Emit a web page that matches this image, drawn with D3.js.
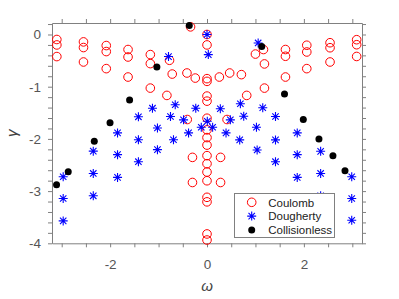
<!DOCTYPE html>
<html lang="en">
<head>
    <meta charset="UTF-8">
    <title>roots</title>
    <script src="https://d3js.org/d3.v7.min.js"></script>
    <style>
        body { margin: 0; background: #fff; }
        text { font-family: "Liberation Sans", Arial, sans-serif; }
    </style>
</head>
<body>
<script>
// Coulomb roots (omega, gamma)
var coulombOmega = [
    -3.1, -3.1, -3.1, -2.55, -2.55, -2.55, -2.08, -2.08, -2.08, -1.63, -1.63, -1.63, -1.17, -1.17, -1.17,
    3.09, 3.09, 3.09, 2.54, 2.54, 2.54, 2.06, 2.06, 2.06, 1.62, 1.62, 1.62,
    -0.774, -0.718, -0.828, -0.414, -0.242, -0.408, -0.34, -0.3, -0.3,
    1.166, 1.0, 1.186, 1.186, 0.255, 0.468, 0.71, 0.82, 0.414, 0.28, 0.28,
    0, 0, 0, 0, 0, 0, 0, 0, 0, 0, 0, 0, 0, 0, 0, 0, 0, 0
];
var coulombGamma = [
    -0.096, -0.2, -0.423, -0.142, -0.25, -0.527, -0.212, -0.327, -0.654, -0.288, -0.431, -0.815, -0.385, -0.558, -1.027,
    -0.1, -0.196, -0.421, -0.158, -0.254, -0.527, -0.206, -0.335, -0.654, -0.288, -0.417, -0.815,
    -0.494, -0.758, -1.167, -0.738, -0.835, -1.629, 0.146, -2.354, -2.835,
    -0.288, -0.375, -0.564, -1.027, -0.815, -0.738, -0.769, -1.167, -1.629, -2.354, -2.835,
    0, -0.2, -0.846, -0.898, -1.18, -1.277, -1.604, -1.827, -1.975, -2.119, -2.321, -2.475, -2.635, -2.802, -3.119, -3.206, -3.821, -3.937
];

// Dougherty roots
var doughertyOmega = [
    -2.969, -2.969, -2.969, -2.348, -2.348, -2.348, -1.847, -1.847, -1.847, -1.416, -1.416, -1.416,
    -1.126, -1.023, -1.023, -0.754, -0.692, -0.656, -0.484, -0.381, -0.232, -0.118, 0.006, -0.795, 0, 0.027,
    0.116, 0.275, 0.393, 0.482, 0.689, 0.758, 0.675, 1.021, 1.035, 1.151, 1.414, 1.414, 1.414,
    1.863, 1.863, 1.863, 2.346, 2.346, 2.346, 2.988, 2.988, 2.988, 1.056
];
var doughertyGamma = [
    -2.725, -3.142, -3.571, -2.235, -2.662, -3.09, -1.885, -2.302, -2.738, -1.577, -2.017, -2.437,
    -1.412, -1.792, -2.206, -1.571, -2.017, -1.346, -1.635, -1.885, -1.412, -1.777, -1.662, -0.423, 0, -0.385,
    -1.777, -1.423, -1.885, -1.635, -1.327, -1.565, -2.019, -1.777, -2.212, -1.404, -1.571, -2.019, -2.437,
    -1.885, -2.302, -2.738, -2.238, -2.662, -3.09, -2.725, -3.142, -3.558, -0.162
];

// collisionless roots
var freeOmega = [-3.106, -2.865, -2.327, -2.002, -1.598, -1.035, -0.366, 1.13, 1.6, 1.988, 2.311, 2.6, 2.849];
var freeGamma = [-2.879, -2.629, -2.046, -1.692, -1.254, -0.623, 0.173, -0.231, -1.142, -1.629, -2.0, -2.321, -2.61];

var xMinor = d3.range(-3, 3.01, 0.5);
var yMinor = d3.range(-4, 0.21, 0.2);
var legendNames = ["Coulomb", "Dougherty", "Collisionless"];

var W = 399, H = 299;
var pl = 52, pr = 362, pt = 23, pb = 243.3;
var axisGrey = "#808080";

var svg = d3.select("body").append("svg")
    .attr("width", W)
    .attr("height", H);

var x = d3.scaleLinear().domain([-3.2, 3.2]).range([pl, pr]);
var y = d3.scaleLinear().domain([-4, 0.22]).range([pb, pt]);

function lbl(d) {
    var r = Math.round(d);
    return Math.abs(d - r) < 1e-6 ? String(r) : "";
}

// box with outward ticks on all four sides
var gx = svg.append("g").attr("transform", "translate(0," + pb + ")")
    .call(d3.axisBottom(x).tickValues(xMinor).tickSizeInner(4).tickSizeOuter(0).tickPadding(12)
        .tickFormat(function(d) { return (Math.abs(d) % 2 < 1e-6) ? lbl(d) : ""; }));
var gt = svg.append("g").attr("transform", "translate(0," + pt + ")")
    .call(d3.axisTop(x).tickValues(xMinor).tickSizeInner(4).tickSizeOuter(0).tickFormat(""));
var gy = svg.append("g").attr("transform", "translate(" + pl + ",0)")
    .call(d3.axisLeft(y).tickValues(yMinor).tickSizeInner(4).tickSizeOuter(0).tickPadding(7).tickFormat(lbl));
var gr = svg.append("g").attr("transform", "translate(" + pr + ",0)")
    .call(d3.axisRight(y).tickValues(yMinor).tickSizeInner(4).tickSizeOuter(0).tickFormat(""));

[gx, gt, gy, gr].forEach(function(g) {
    g.select(".domain").attr("stroke", axisGrey);
    g.selectAll(".tick line").attr("stroke", axisGrey);
    g.selectAll(".tick text").attr("fill", "#555").style("font-size", "13.5px")
        .style("font-family", "'Liberation Sans', Arial, sans-serif");
});

svg.append("text")
    .attr("x", x(0)).attr("y", 291)
    .attr("text-anchor", "middle")
    .style("font-size", "15px").style("font-style", "italic").attr("fill", "#444")
    .text("ω");
svg.append("text")
    .attr("transform", "translate(17," + ((pt + pb) / 2) + ") rotate(-90)")
    .attr("text-anchor", "middle")
    .style("font-size", "15px").style("font-style", "italic").attr("fill", "#444")
    .text("γ");

var starPath = "M-4.5,0H4.5M0,-4.5V4.5M-3.2,-3.2L3.2,3.2M-3.2,3.2L3.2,-3.2";

var plot = svg.append("g");

plot.selectAll("circle.coulomb")
    .data(d3.range(coulombOmega.length))
    .enter().append("circle")
    .attr("class", "coulomb")
    .attr("cx", function(i) { return x(coulombOmega[i]); })
    .attr("cy", function(i) { return y(coulombGamma[i]); })
    .attr("r", 4.3)
    .attr("fill", "none")
    .attr("stroke", "#ff0000")
    .attr("stroke-width", 1);

plot.selectAll("path.dough")
    .data(d3.range(doughertyOmega.length))
    .enter().append("path")
    .attr("class", "dough")
    .attr("d", starPath)
    .attr("transform", function(i) { return "translate(" + x(doughertyOmega[i]) + "," + y(doughertyGamma[i]) + ")"; })
    .attr("stroke", "#0000ff")
    .attr("stroke-width", 1.1)
    .attr("fill", "none");

plot.selectAll("circle.free")
    .data(d3.range(freeOmega.length))
    .enter().append("circle")
    .attr("class", "free")
    .attr("cx", function(i) { return x(freeOmega[i]); })
    .attr("cy", function(i) { return y(freeGamma[i]); })
    .attr("r", 3.5)
    .attr("fill", "#000");

// legend
var lg = svg.append("g");
lg.append("rect")
    .attr("x", 234.5).attr("y", 193.5)
    .attr("width", 100).attr("height", 44)
    .attr("fill", "#fff").attr("stroke", axisGrey);

var rows = lg.selectAll("g.row").data(legendNames).enter().append("g")
    .attr("transform", function(d, i) { return "translate(251.7," + (202.3 + i * 13.8) + ")"; });
rows.append("text")
    .attr("x", 16.5).attr("y", 4.2)
    .style("font-size", "11.5px").attr("fill", "#222")
    .text(function(d) { return d; });
rows.filter(function(d, i) { return i === 0; }).append("circle")
    .attr("r", 4.3).attr("fill", "none").attr("stroke", "#ff0000");
rows.filter(function(d, i) { return i === 1; }).append("path")
    .attr("d", starPath).attr("stroke", "#0000ff").attr("stroke-width", 1.1);
rows.filter(function(d, i) { return i === 2; }).append("circle")
    .attr("r", 3.5).attr("fill", "#000");
</script>
</body>
</html>
